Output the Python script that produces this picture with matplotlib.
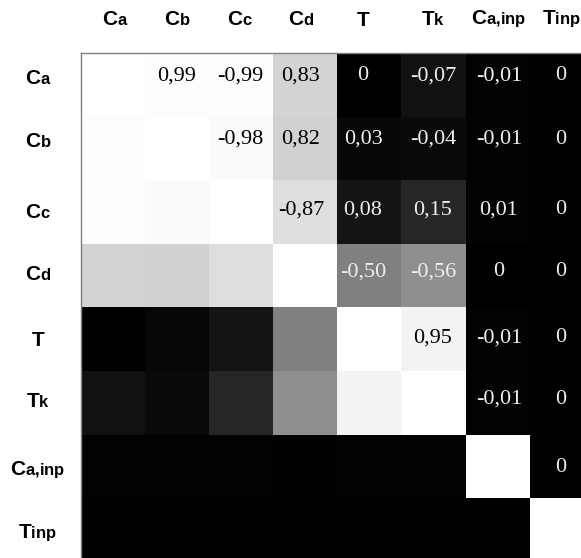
import numpy as np
import matplotlib.pyplot as plt
import matplotlib._mathtext as mathtext_internals

# variables of the correlation matrix
names = [r"C_{a}", r"C_{b}", r"C_{c}", r"C_{d}", r"T", r"T_{k}", r"C_{a{,}inp}", r"T_{inp}"]

# upper triangle of the correlation matrix, row by row (diagonal excluded)
row_ca = [0.99, -0.99, 0.83, 0.00, -0.07, -0.01, 0.00]
row_cb = [-0.98, 0.82, 0.03, -0.04, -0.01, 0.00]
row_cc = [-0.87, 0.08, 0.15, 0.01, 0.00]
row_cd = [-0.50, -0.56, 0.00, 0.00]
row_t = [0.95, -0.01, 0.00]
row_tk = [-0.01, 0.00]
row_cainp = [0.00]

upper_rows = [row_ca, row_cb, row_cc, row_cd, row_t, row_tk, row_cainp]

n = len(names)
corr = np.eye(n)
for i, row in enumerate(upper_rows):
    for k, v in enumerate(row):
        j = i + 1 + k
        corr[i, j] = v
        corr[j, i] = v

# bold sans labels with large, barely dropped subscripts
plt.rcParams["mathtext.fontset"] = "custom"
plt.rcParams["mathtext.rm"] = "Liberation Sans:bold"
plt.rcParams["mathtext.it"] = "Liberation Sans:bold"
plt.rcParams["mathtext.bf"] = "Liberation Sans:bold"
try:
    mathtext_internals.SHRINK_FACTOR = 0.8
    mathtext_internals.FontConstantsBase.subdrop = 0.05
    mathtext_internals.FontConstantsBase.sub1 = 0.05
    mathtext_internals.FontConstantsBase.script_space = 0.02
except AttributeError:
    pass

fig = plt.figure(figsize=(5.81, 5.58), dpi=100)
W, H = 581, 558
cell_w, cell_h = 64, 63.6
left, top = 81, 53
ax = fig.add_axes([left / W, (H - top - n * cell_h) / H, n * cell_w / W, n * cell_h / H])

ax.imshow(np.abs(corr), cmap="gray", vmin=0, vmax=1, aspect="auto",
          interpolation="nearest")

# where the text of each row / column sits (pixels from the top-left corner)
row_text_px = [76, 139, 210, 272, 338, 399, 468, 531]
col_text_px = [115, 177, 240, 301, 363, 433, 499, 561]
row_pos = [(p - top) / cell_h - 0.5 for p in row_text_px]
col_pos = [(p - left) / cell_w - 0.5 for p in col_text_px]


def fmt(v):
    if v == 0:
        return "0"
    return f"{v:.2f}".replace(".", ",")


for i in range(n):
    for j in range(i + 1, n):
        v = corr[i, j]
        color = "black" if abs(v) > 0.6 else "#eeeef2"
        ax.text(col_pos[j], row_pos[i], fmt(v), ha="center", va="center",
                color=color, fontsize=16, family="Liberation Serif")

labels = [f"${s}$" for s in names]
ax.set_xticks(col_pos)
ax.set_yticks(row_pos)
ax.xaxis.tick_top()
ax.set_xticklabels(labels, fontsize=15, va="center")
ax.set_yticklabels(labels, fontsize=15, ha="center")
ax.tick_params(axis="x", length=0, pad=24)
ax.tick_params(axis="y", length=0, pad=31)
ax.set_xlim(-0.5, n - 0.5)
ax.set_ylim(n - 0.5, -0.5)

for side in ["top", "left"]:
    ax.spines[side].set_color("#808080")
    ax.spines[side].set_linewidth(1.0)
for side in ["right", "bottom"]:
    ax.spines[side].set_visible(False)

fig.savefig("out.png", dpi=100)
